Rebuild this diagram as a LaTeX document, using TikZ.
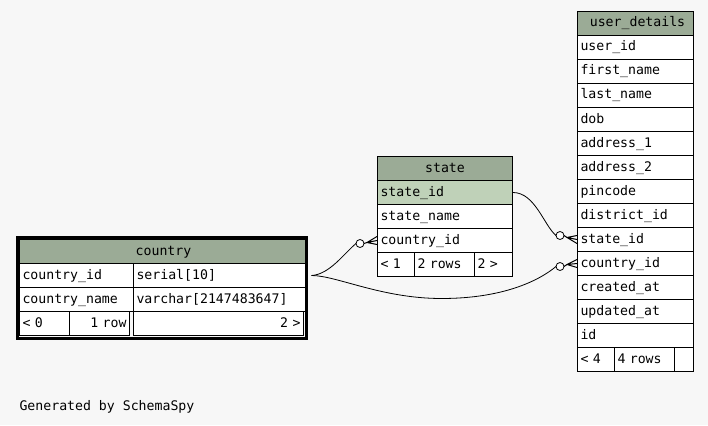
\documentclass[tikz,border=0pt]{standalone}
\usepackage{fontspec}
\setmonofont{DejaVu Sans Mono}
\usepackage{tikz}

\definecolor{bgcol}{RGB}{247,247,247}
\definecolor{hdrgreen}{RGB}{155,171,150}
\definecolor{selgreen}{RGB}{191,209,184}

\tikzset{
  tbl/.style={draw, line width=1pt, fill=white, anchor=north west, minimum height=24pt,
    inner xsep=3pt, inner ysep=0pt, text height=10pt, text depth=3pt,
    font=\ttfamily\fontsize{13.2}{15}\selectfont},
  fld/.style={tbl, text width=#1, align=left},
  fldr/.style={tbl, text width=#1, align=right},
  hdr/.style={tbl, fill=hdrgreen, text width=#1, align=center},
  fk/.style={line width=0.8pt},
  crow/.style={line width=1pt},
  odot/.style={draw, fill=white, line width=0.8pt}
}

\begin{document}
\begin{tikzpicture}[x=1pt,y=-1pt]
\fill[bgcol] (0,0) rectangle (708,425);
\useasboundingbox (0,0) rectangle (708,425);

% country
\node[hdr=282pt] (cn_hdr) at (19,239) {country};
\node[fld=108pt] (cn_id) at (19,263) {country\_id};
\node[fld=168pt] (cn_type) at (133,263) {serial[10]};
\node[fld=108pt] (cn_name) at (19,287) {country\_name};
\node[fld=168pt] (cn_ntype) at (133,287) {varchar[2147483647]};
\node[fld=44pt] (cn_f1) at (19,311) {< 0};
\node[fldr=54pt] (cn_f2) at (69,311) {1 row\hspace*{2pt}};
\node[fldr=164pt] (cn_f3) at (133,311) {2 >\hspace*{3pt}};
\draw[line width=3pt] ([shift={(-2,-2)}]cn_hdr.north west) rectangle ([shift={(2,2)}]cn_f3.south east);

% state
\node[hdr=129pt] (st_hdr) at (377,156) {state};
\node[fld=129pt, fill=selgreen] (st_id) at (377,180) {state\_id};
\node[fld=129pt] (st_name) at (377,204) {state\_name};
\node[fld=129pt] (st_cid) at (377,228) {country\_id};
\node[fld=31pt] (st_f1) at (377,252) {< 1};
\node[fld=54pt] (st_f2) at (414,252) {2 rows};
\node[fld=32pt] (st_f3) at (474,252) {2 >};

% user_details
\node[hdr=110pt] (ud_hdr) at (577,11) {\hspace*{4pt}user\_details};
\foreach \f/\n [count=\i from 0] in {user\_id/uid, first\_name/fname, last\_name/lname, dob/dob,
    address\_1/adr1, address\_2/adr2, pincode/pin, district\_id/did, state\_id/sid,
    country\_id/cid, created\_at/cat, updated\_at/uat, id/id}
  \node[fld=110pt] (ud_\n) at (577,35+24*\i) {\f};
\node[fld=31pt] (ud_f1) at (577,347) {< 4};
\node[fld=54pt] (ud_f2) at (614,347) {4 rows};
\node[fld=13pt] (ud_f3) at (674,347) {};

% state.state_id -> user_details.state_id
\coordinate (c1) at ([shift={(-17,-4)}]ud_sid.west);
\coordinate (a1) at ([shift={(-10,-2)}]ud_sid.west);
\draw[fk] (st_id.east) .. controls +(22,0) and +(-12,-10) .. ([xshift=-4pt]c1);
\draw[crow] ([xshift=4pt]c1) -- (a1) -- ([yshift=4pt]ud_sid.west) (a1) -- (ud_sid.west) (a1) -- ([yshift=-4pt]ud_sid.west);
\draw[odot] (c1) circle (4pt);

% country.country_id -> state.country_id
\coordinate (c2) at ([shift={(-17,3)}]st_cid.west);
\coordinate (a2) at ([shift={(-10,2)}]st_cid.west);
\draw[fk] ([xshift=3.5pt]cn_type.east) .. controls +(18,-1) and +(-12,10) .. ([xshift=-4pt]c2);
\draw[crow] ([xshift=4pt]c2) -- (a2) -- ([yshift=4pt]st_cid.west) (a2) -- (st_cid.west) (a2) -- ([yshift=-4pt]st_cid.west);
\draw[odot] (c2) circle (4pt);

% country.country_id -> user_details.country_id
\coordinate (c3) at ([shift={(-17,3)}]ud_cid.west);
\coordinate (a3) at ([shift={(-10,1)}]ud_cid.west);
\draw[fk] ([xshift=3.5pt]cn_type.east) .. controls +(25,0) and +(-60,0) .. ++(130,23)
  .. controls +(60,0) and +(-18,15) .. ([xshift=-4pt]c3);
\draw[crow] ([xshift=4pt]c3) -- (a3) -- ([yshift=4pt]ud_cid.west) (a3) -- (ud_cid.west) (a3) -- ([yshift=-4pt]ud_cid.west);
\draw[odot] (c3) circle (4pt);

\node[anchor=base west, font=\ttfamily\fontsize{13.2}{15}\selectfont] (gen) at (16,410) {Generated by SchemaSpy};
\end{tikzpicture}
\end{document}
